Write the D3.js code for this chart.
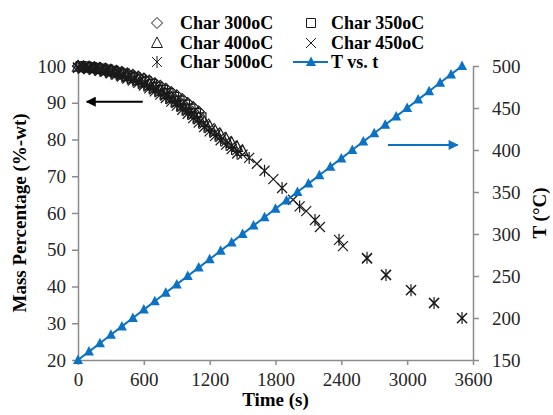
<!DOCTYPE html>
<html>
<head>
<meta charset="utf-8">
<script src="https://cdn.jsdelivr.net/npm/d3@7"></script>
<style>
body { margin: 0; background: #fff; }
svg { display: block; }
</style>
</head>
<body>
<svg id="chart" width="553" height="415"></svg>
<script>
// mass loss of chars vs time, plus furnace temperature ramp

const t300 = [0, 50, 100, 150, 200, 250, 300, 350, 400, 450, 500, 550, 600, 650, 700, 750, 800, 850, 900, 950, 1000, 1050, 1100];
const m300 = [100.0, 99.9, 99.8, 99.7, 99.5, 99.3, 99.0, 98.7, 98.4, 98.0, 97.6, 97.1, 96.6, 96.0, 95.3, 94.6, 93.8, 92.9, 92.0, 91.0, 89.9, 88.8, 87.6];

const t350 = [25, 75, 125, 175, 225, 275, 325, 375, 425, 475, 525, 575, 625, 675, 725, 775, 825, 875, 925, 975, 1025, 1075, 1125];
const m350 = [100.0, 99.9, 99.7, 99.5, 99.3, 99.0, 98.7, 98.3, 97.9, 97.4, 96.9, 96.4, 95.8, 95.1, 94.3, 93.5, 92.6, 91.6, 90.6, 89.5, 88.4, 87.2, 86.0];

const t400 = [0, 50, 100, 150, 200, 250, 300, 350, 400, 450, 500, 550, 600, 650, 700, 750, 800, 850, 900, 950, 1000, 1050, 1100, 1150, 1200, 1250, 1300, 1350, 1400, 1450, 1500];
const m400 = [99.8, 99.7, 99.6, 99.4, 99.2, 98.9, 98.6, 98.2, 97.8, 97.3, 96.8, 96.2, 95.6, 94.9, 94.1, 93.3, 92.4, 91.4, 90.4, 89.3, 88.2, 87.1, 86.0, 84.8, 83.6, 82.4, 81.3, 80.2, 79.1, 78.0, 76.9];

const t450 = [0, 50, 100, 150, 200, 250, 300, 350, 400, 450, 500, 550, 600, 650, 700, 750, 800, 850, 900, 950, 1000, 1050, 1100, 1150, 1200, 1250, 1300, 1350, 1400, 1450, 1500, 1630, 1780, 1960, 2080, 2205, 2415, 2634, 2807, 3035, 3245, 3500];
const m450 = [99.6, 99.5, 99.4, 99.2, 99.0, 98.7, 98.4, 98.0, 97.5, 97.0, 96.5, 95.9, 95.2, 94.5, 93.7, 92.9, 92.0, 91.0, 90.0, 88.9, 87.8, 86.7, 85.5, 84.3, 83.1, 81.9, 80.7, 79.5, 78.3, 77.1, 75.9, 73.4, 69.2, 63.6, 60.5, 56.2, 51.0, 47.6, 43.2, 39.0, 35.5, 31.4];

const t500 = [0, 50, 100, 150, 200, 250, 300, 350, 400, 450, 500, 550, 600, 650, 700, 750, 800, 850, 900, 950, 1000, 1050, 1100, 1150, 1200, 1250, 1300, 1350, 1400, 1450, 1560, 1700, 1860, 2020, 2160, 2379, 2634, 2807, 3035, 3245, 3500];
const m500 = [99.5, 99.4, 99.2, 99.0, 98.7, 98.4, 98.0, 97.6, 97.1, 96.6, 96.0, 95.4, 94.7, 93.9, 93.1, 92.2, 91.3, 90.3, 89.2, 88.1, 87.0, 85.8, 84.6, 83.4, 82.2, 81.0, 79.8, 78.6, 77.4, 76.2, 75.0, 71.5, 66.8, 61.8, 58.1, 52.7, 47.8, 43.1, 39.0, 35.5, 31.4];

const tTemp = [0, 100, 200, 300, 400, 500, 600, 700, 800, 900, 1000, 1100, 1200, 1300, 1400, 1500, 1600, 1700, 1800, 1900, 2000, 2100, 2200, 2300, 2400, 2500, 2600, 2700, 2800, 2900, 3000, 3100, 3200, 3300, 3400, 3500];
const temp = [150, 160, 170, 180, 190, 200, 210, 220, 230, 240, 250, 260, 270, 280, 290, 300, 310, 320, 330, 340, 350, 360, 370, 380, 390, 400, 410, 420, 430, 440, 450, 460, 470, 480, 490, 500];

const xTicks = [0, 600, 1200, 1800, 2400, 3000, 3600];
const yLeftTicks = [20, 30, 40, 50, 60, 70, 80, 90, 100];
const yRightTicks = [150, 200, 250, 300, 350, 400, 450, 500];

const charSeries = [
    { name: 'Char 300oC', marker: 'diamond', t: t300, m: m300 },
    { name: 'Char 350oC', marker: 'square', t: t350, m: m350 },
    { name: 'Char 400oC', marker: 'triangle', t: t400, m: m400 },
    { name: 'Char 450oC', marker: 'cross', t: t450, m: m450 },
    { name: 'Char 500oC', marker: 'star', t: t500, m: m500 }
];

const BLUE = '#0b72c4';
const AXIS = '#8c8c8c';
const INK = '#262626';
const SERIF = '"Liberation Serif", Tinos, "Times New Roman", "DejaVu Serif", serif';

function markerPath(type) {
    switch (type) {
        case 'diamond': return 'M0,-5.5L5.5,0L0,5.5L-5.5,0Z';
        case 'square': return 'M-4.5,-4.5H4.5V4.5H-4.5Z';
        case 'triangle': return 'M0,-6L5.5,4.5L-5.5,4.5Z';
        case 'cross': return 'M-5,-5L5,5M-5,5L5,-5';
        case 'star': return 'M-5,-5L5,5M-5,5L5,-5M0,-6L0,6';
    }
}

function renderChart() {
    const svg = d3.select('#chart');
    const plot = { left: 78, right: 473, top: 66, bottom: 360 };

    const x = d3.scaleLinear().domain([0, 3600]).range([plot.left, plot.right]);
    const yL = d3.scaleLinear().domain([20, 100]).range([plot.bottom, plot.top]);
    const yR = d3.scaleLinear().domain([150, 500]).range([plot.bottom, plot.top]);

    // axes
    const xAxis = svg.append('g').attr('transform', `translate(0,${plot.bottom})`)
        .call(d3.axisBottom(x).tickValues(xTicks).tickFormat(d3.format('d')).tickSize(5).tickSizeOuter(0).tickPadding(8));
    const lAxis = svg.append('g').attr('transform', `translate(${plot.left},0)`)
        .call(d3.axisLeft(yL).tickValues(yLeftTicks).tickSize(6).tickSizeOuter(0).tickPadding(6));
    const rAxis = svg.append('g').attr('transform', `translate(${plot.right},0)`)
        .call(d3.axisRight(yR).tickValues(yRightTicks).tickSize(6).tickSizeOuter(0).tickPadding(13));

    [xAxis, lAxis, rAxis].forEach(a => {
        a.attr('font-family', SERIF).attr('font-size', 19);
        a.select('.domain').attr('stroke', AXIS).attr('stroke-width', 1.5);
        a.selectAll('.tick line').attr('stroke', AXIS).attr('stroke-width', 1.5);
        a.selectAll('.tick text').attr('font-family', SERIF).attr('font-size', 19).attr('fill', INK);
    });

    // axis titles
    const title = (sel) => sel.attr('font-family', SERIF).attr('font-size', 19).attr('font-weight', 'bold')
        .attr('fill', '#000').attr('text-anchor', 'middle');
    svg.append('text').call(title)
        .attr('x', (plot.left + plot.right) / 2).attr('y', 406)
        .text('Time (s)');
    svg.append('text').call(title)
        .attr('transform', `translate(26,${(plot.top + plot.bottom) / 2}) rotate(-90)`)
        .text('Mass Percentage (%-wt)');
    svg.append('text').call(title)
        .attr('transform', `translate(546,${(plot.top + plot.bottom) / 2}) rotate(-90)`)
        .text('T (°C)');

    // char markers
    charSeries.forEach(s => {
        const pts = s.t.map((t, i) => ({ t, m: s.m[i] }));
        svg.append('g').attr('class', 'series')
            .selectAll('path').data(pts).enter().append('path')
            .attr('transform', d => `translate(${x(d.t)},${yL(d.m)})`)
            .attr('d', markerPath(s.marker))
            .attr('fill', 'none')
            .attr('stroke', '#1a1a1a')
            .attr('stroke-width', 1.2);
    });

    // temperature ramp
    const tPts = tTemp.map((t, i) => ({ t, T: temp[i] }));
    svg.append('path').datum(tPts)
        .attr('d', d3.line().x(d => x(d.t)).y(d => yR(d.T)))
        .attr('fill', 'none').attr('stroke', BLUE).attr('stroke-width', 2);
    svg.append('g').selectAll('path').data(tPts).enter().append('path')
        .attr('transform', d => `translate(${x(d.t)},${yR(d.T)})`)
        .attr('d', 'M0,-5.5L5,4L-5,4Z')
        .attr('fill', BLUE);

    // arrows pointing at the relevant axis
    const defs = svg.append('defs');
    [['arrBlack', '#000'], ['arrBlue', BLUE]].forEach(([id, c]) => {
        defs.append('marker').attr('id', id).attr('viewBox', '0 0 10 10')
            .attr('refX', 9).attr('refY', 5).attr('markerWidth', 6).attr('markerHeight', 5)
            .attr('markerUnits', 'strokeWidth').attr('orient', 'auto')
            .append('path').attr('d', 'M0,0L10,5L0,10Z').attr('fill', c);
    });
    svg.append('line')
        .attr('x1', x(590)).attr('x2', x(80)).attr('y1', yL(90.3)).attr('y2', yL(90.3))
        .attr('stroke', '#000').attr('stroke-width', 2).attr('marker-end', 'url(#arrBlack)');
    svg.append('line')
        .attr('x1', x(2825)).attr('x2', x(3460)).attr('y1', yR(406)).attr('y2', yR(406))
        .attr('stroke', BLUE).attr('stroke-width', 2).attr('marker-end', 'url(#arrBlue)');

    renderLegend(svg);
}

function renderLegend(svg) {
    const items = [
        { name: 'Char 300oC', marker: 'diamond', col: 0, row: 0 },
        { name: 'Char 350oC', marker: 'square', col: 1, row: 0 },
        { name: 'Char 400oC', marker: 'triangle', col: 0, row: 1 },
        { name: 'Char 450oC', marker: 'cross', col: 1, row: 1 },
        { name: 'Char 500oC', marker: 'star', col: 0, row: 2 },
        { name: 'T vs. t', marker: 'temp', col: 1, row: 2 }
    ];
    const colX = [157, 311];
    const textX = [180, 331];
    const rowY = [23, 43, 62];

    const g = svg.append('g').attr('class', 'legend');
    items.forEach(it => {
        const mx = colX[it.col], my = rowY[it.row];
        if (it.marker === 'temp') {
            g.append('line').attr('x1', mx - 18).attr('x2', mx + 17).attr('y1', my).attr('y2', my)
                .attr('stroke', BLUE).attr('stroke-width', 2);
            g.append('path').attr('transform', `translate(${mx},${my})`)
                .attr('d', 'M0,-5.5L5,4L-5,4Z').attr('fill', BLUE);
        } else {
            g.append('path').attr('transform', `translate(${mx},${my})`)
                .attr('d', markerPath(it.marker))
                .attr('fill', 'none').attr('stroke', '#1a1a1a').attr('stroke-width', 1);
        }
        g.append('text').attr('x', textX[it.col]).attr('y', my + 6)
            .attr('font-family', SERIF).attr('font-size', 18).attr('font-weight', 'bold').attr('fill', '#000')
            .text(it.name);
    });
}

renderChart();
</script>
</body>
</html>
